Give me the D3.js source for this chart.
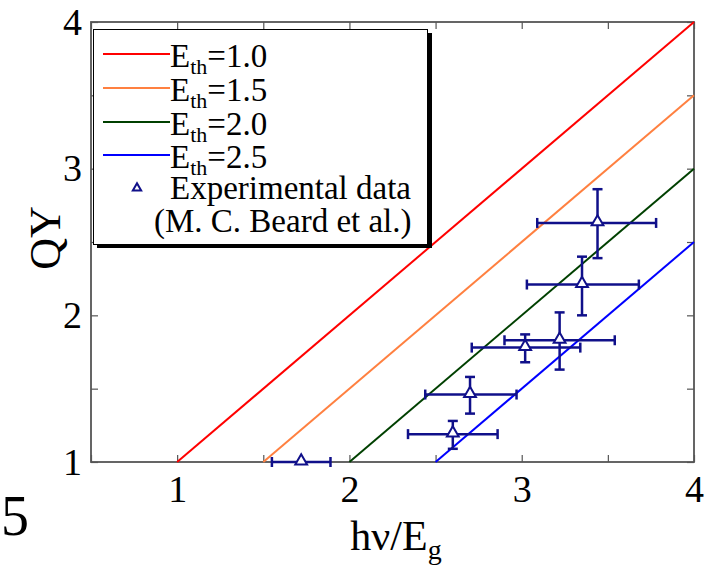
<!DOCTYPE html>
<html><head><meta charset="utf-8">
<script src="https://cdn.jsdelivr.net/npm/d3@7"></script>
<style>body{margin:0;background:#fff;} svg{display:block;} text{font-family:"Liberation Serif","Times New Roman",serif;}</style>
</head><body><svg id="c" width="706" height="567"></svg>
<script>
// Theory curves: QY vs hv/Eg for threshold energies
const thresholds = [1.0, 1.5, 2.0, 2.5];
const seriesColors = ["#ff0000", "#ff8040", "#004000", "#0000ff"];
const curveX = [[1.0, 4.0], [1.5, 4.0], [2.0, 4.0], [2.5, 4.0]];
const curveY = [[1.0, 4.0], [1.0, 3.5], [1.0, 3.0], [1.0, 2.5]];
const legendValues = ["1.0", "1.5", "2.0", "2.5"];
// Experimental data (M. C. Beard et al.)
const expX    = [1.72, 2.60, 2.70, 3.02, 3.22, 3.35, 3.44];
const expY    = [1.00, 1.19, 1.46, 1.78, 1.83, 2.21, 2.63];
const expXlo  = [1.55, 2.34, 2.44, 2.71, 2.90, 3.03, 3.09];
const expXhi  = [1.89, 2.86, 2.97, 3.34, 3.54, 3.68, 3.78];
const expYlo  = [1.00, 1.09, 1.33, 1.68, 1.63, 2.00, 2.39];
const expYhi  = [1.00, 1.28, 1.58, 1.87, 2.02, 2.40, 2.86];
const xTicks = [0.5, 1, 1.5, 2, 2.5, 3, 3.5, 4];
const xTickLabels = ["", "1", "", "2", "", "3", "", "4"];
const yTicks = [1, 1.5, 2, 2.5, 3, 3.5, 4];
const yTickLabels = ["1", "", "2", "", "3", "", "4"];

const svg = d3.select("#c");
const L = 91, R = 694, T = 22, B = 462;
const x = d3.scaleLinear().domain([0.5, 4]).range([L, R]);
const y = d3.scaleLinear().domain([1, 4]).range([B, T]);
const axisColor = "#555";

// frame
svg.append("rect").attr("x", L).attr("y", T).attr("width", R - L).attr("height", B - T)
  .attr("fill", "none").attr("stroke", axisColor).attr("stroke-width", 1.8);

function styleAxis(g) {
  g.attr("font-family", null);
  g.select(".domain").remove();
  g.selectAll(".tick line").attr("stroke", axisColor).attr("stroke-width", 1.2);
  g.selectAll(".tick text").attr("fill", "#000").style("font-size", "38px").style("font-family", "'Liberation Serif','Times New Roman',serif");
}
const xb = svg.append("g").attr("transform", `translate(0,${B})`)
  .call(d3.axisBottom(x).tickValues(xTicks).tickSizeInner(-7).tickSizeOuter(0).tickPadding(13)
  .tickFormat((d, i) => xTickLabels[i]));
styleAxis(xb);
const xt = svg.append("g").attr("transform", `translate(0,${T})`)
  .call(d3.axisTop(x).tickValues(xTicks).tickSizeInner(-7).tickSizeOuter(0).tickFormat(""));
styleAxis(xt);
const yl = svg.append("g").attr("transform", `translate(${L},0)`)
  .call(d3.axisLeft(y).tickValues(yTicks).tickSizeInner(-7).tickSizeOuter(0).tickPadding(9)
  .tickFormat((d, i) => yTickLabels[i]));
styleAxis(yl);
const yr = svg.append("g").attr("transform", `translate(${R},0)`)
  .call(d3.axisRight(y).tickValues(yTicks).tickSizeInner(-7).tickSizeOuter(0).tickFormat(""));
styleAxis(yr);

// curves
const line = d3.line().x(d => x(d[0])).y(d => y(d[1]));
thresholds.forEach((t, i) => {
  const pts = curveX[i].map((v, j) => [v, curveY[i][j]]);
  svg.append("path").attr("d", line(pts)).attr("fill", "none")
    .attr("stroke", seriesColors[i]).attr("stroke-width", 2);
});

// error bars
const eb = "#10108a";
const cap = 5;
const g = svg.append("g").attr("stroke", eb).attr("stroke-width", 2.5).attr("fill", "none");
expX.forEach((xv, i) => {
  const yv = expY[i];
  g.append("line").attr("x1", x(expXlo[i])).attr("x2", x(expXhi[i])).attr("y1", y(yv)).attr("y2", y(yv));
  g.append("line").attr("x1", x(expXlo[i])).attr("x2", x(expXlo[i])).attr("y1", y(yv) - cap).attr("y2", y(yv) + cap);
  g.append("line").attr("x1", x(expXhi[i])).attr("x2", x(expXhi[i])).attr("y1", y(yv) - cap).attr("y2", y(yv) + cap);
  if (expYhi[i] > expYlo[i]) {
    g.append("line").attr("x1", x(xv)).attr("x2", x(xv)).attr("y1", y(expYlo[i])).attr("y2", y(expYhi[i]));
    g.append("line").attr("x1", x(xv) - cap).attr("x2", x(xv) + cap).attr("y1", y(expYlo[i])).attr("y2", y(expYlo[i]));
    g.append("line").attr("x1", x(xv) - cap).attr("x2", x(xv) + cap).attr("y1", y(expYhi[i])).attr("y2", y(expYhi[i]));
  }
});
const tri = d3.symbol().type(d3.symbolTriangle).size(60);
expX.forEach((xv, i) => {
  svg.append("path").attr("d", tri()).attr("transform", `translate(${x(xv)},${y(expY[i]) - 1})`)
    .attr("fill", "#fff").attr("stroke", eb).attr("stroke-width", 2);
});

// legend
const lg = svg.append("g");
lg.append("rect").attr("x", 97).attr("y", 33).attr("width", 335).attr("height", 215).attr("fill", "#000");
lg.append("rect").attr("x", 93.5).attr("y", 29.5).attr("width", 334).attr("height", 215)
  .attr("fill", "#fff").attr("stroke", "#000").attr("stroke-width", 1);
const rowY = [54, 88, 122, 155];
rowY.forEach((ry, i) => {
  lg.append("line").attr("x1", 103).attr("x2", 170).attr("y1", ry).attr("y2", ry)
    .attr("stroke", seriesColors[i]).attr("stroke-width", 2);
  const t = lg.append("text").attr("x", 170).attr("y", ry + 13).style("font-size", "33px");
  t.append("tspan").text("E");
  t.append("tspan").attr("dy", 7).style("font-size", "22px").text("th");
  t.append("tspan").attr("dy", -7).text("=" + legendValues[i]);
});
lg.append("path").attr("d", d3.symbol().type(d3.symbolTriangle).size(30)())
  .attr("transform", "translate(137,188)").attr("fill", "#fff").attr("stroke", eb).attr("stroke-width", 2);
lg.append("text").attr("x", 170).attr("y", 199).style("font-size", "33px").text("Experimental data");
lg.append("text").attr("x", 154).attr("y", 232).style("font-size", "33px").text("(M. C. Beard et al.)");

// axis titles
const xl = svg.append("text").attr("x", 396).attr("y", 550).attr("text-anchor", "middle").style("font-size", "42px");
xl.append("tspan").text("hν/E");
xl.append("tspan").attr("dy", 9).style("font-size", "28px").text("g");
svg.append("text").attr("transform", "translate(60,238) rotate(-90)").attr("text-anchor", "middle")
  .style("font-size", "44px").text("QY");
svg.append("text").attr("x", 1).attr("y", 535).style("font-size", "56px").text("5");
</script>
</body></html>
